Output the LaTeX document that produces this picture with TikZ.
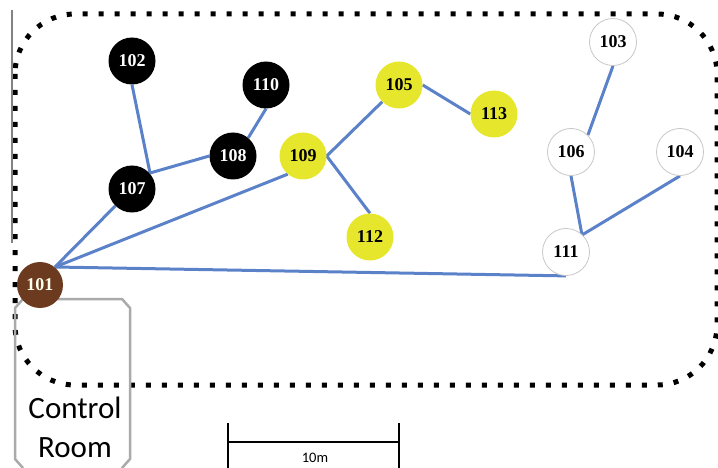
\documentclass[tikz,border=0pt]{standalone}
\usepackage{fontspec}
\usetikzlibrary{backgrounds}
\setmainfont{Carlito}
\newfontfamily\numfont{Liberation Serif}
\definecolor{linkblue}{RGB}{91,130,200}
\definecolor{nodeyellow}{RGB}{230,230,45}
\definecolor{nodebrown}{RGB}{108,58,30}
\definecolor{roomgray}{RGB}{170,170,170}
\definecolor{wallgray}{RGB}{130,130,130}
\tikzset{
  sensor/.style={circle, minimum size=47pt, inner sep=0pt, font=\numfont\fontsize{18}{18}\selectfont\bfseries},
  blacknode/.style={sensor, fill=black, text=white},
  yellownode/.style={sensor, fill=nodeyellow, text=black},
  whitenode/.style={sensor, fill=white, draw=black!22, line width=0.8pt, text=black},
  brownnode/.style={sensor, minimum size=46pt, fill=nodebrown, text=white!92!yellow},
  link/.style={draw=linkblue, line width=3pt},
  boundary/.style={line width=5pt, dash pattern=on 5pt off 11pt, rounded corners=60pt},
}
\begin{document}
\begin{tikzpicture}[x=1pt,y=-1pt]
\useasboundingbox (0,0) rectangle (718,468);
% boundary
\draw[boundary] (15,14) rectangle (717,385);
\draw[wallgray, line width=1.5pt] (12,10) -- (12,243);
% control room
\draw[roomgray, line width=2.5pt, line join=round] (23,468) -- (15,459) -- (15,308) -- (23,299) -- (122,299) -- (130,308) -- (130,459) -- (122,468);
\node[font=\fontsize{31}{31}\selectfont, anchor=base] (ctl) at (75,418) {Control};
\node[font=\fontsize{31}{31}\selectfont, anchor=base] (room) at (75,457) {Room};
% scale bar
\coordinate (sa) at (228,423);
\coordinate (sb) at (228,468);
\coordinate (sc) at (399,423);
\coordinate (sd) at (399,468);
\coordinate (se) at (228,442);
\coordinate (sf) at (399,442);
\draw[line width=2.8pt] (sa) -- (sb) (sc) -- (sd) (se) -- (sf);
\node[font=\fontsize{14.5}{14.5}\selectfont, anchor=base] (scale) at (315,462) {10m};
% nodes
\node[blacknode] (n102) at (132,61) {102};
\node[blacknode] (n110) at (266,85) {110};
\node[blacknode] (n108) at (233,156) {108};
\node[blacknode] (n107) at (132,189) {107};
\node[yellownode] (n109) at (303,156) {109};
\node[yellownode] (n105) at (399,85) {105};
\node[yellownode] (n113) at (494,114) {113};
\node[yellownode] (n112) at (370,237) {112};
\node[whitenode] (n103) at (613,42) {103};
\node[whitenode] (n106) at (571,152) {106};
\node[whitenode] (n104) at (680,152) {104};
\node[whitenode] (n111) at (566,252) {111};
\node[brownnode] (n101) at (40,285) {101};
\coordinate (j1) at (150,173);
\coordinate (j2) at (582,235);
\coordinate (p) at (55,267);
% links (behind nodes)
\begin{scope}[on background layer]
\path[link] (n102.south) -- (j1);
\path[link] (j1) -- (n108.west);
\path[link] (n110.south) -- (n108.50);
\path[link] (n107) -- (p);
\path[link] (n109.230) -- (p);
\path[link] (n109.east) -- (n105.225);
\path[link] (n109.east) -- (n112.north);
\path[link] (n105.east) -- (n113.west);
\path[link] (n103.south) -- (n106.45);
\path[link] (n106.south) -- (j2);
\path[link] (j2) -- (n104.south);
\path[link] (p) -- (n111.south);
\end{scope}
\end{tikzpicture}
\end{document}
